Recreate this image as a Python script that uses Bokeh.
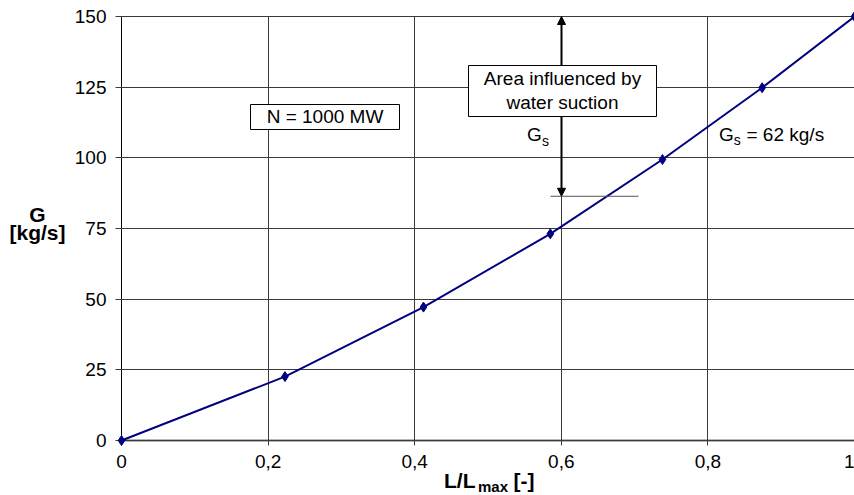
from bokeh.plotting import figure
from bokeh.models import Range1d, FixedTicker, Label, BoxAnnotation, Arrow, NormalHead
from bokeh.embed import file_html
from bokeh.resources import INLINE

# ---- data ----
ratio = [0, 0.223, 0.412, 0.585, 0.738, 0.874, 1.0]      # L/Lmax [-]
flow = [0, 22.6, 47.2, 73.1, 99.4, 124.8, 150]           # G [kg/s]
x_ticks = [0, 0.2, 0.4, 0.6, 0.8, 1.0]
x_tick_labels = ["0", "0,2", "0,4", "0,6", "0,8", "1"]
y_ticks = [0, 25, 50, 75, 100, 125, 150]
suction_top = 150
suction_bottom = 86.4
power_text = "N = 1000 MW"
gs_text = "= 62 kg/s"

# ---- layout (plot region: x 0..1 -> px 121..854, y 0..150 -> px 440..16) ----
W, H = 854, 495
X0, PXU = 121, 733.0           # pixel of x=0, pixels per unit x
Y0, PYU = 440, 424.0 / 150     # pixel of y=0, pixels per unit y
FONT = "Liberation Sans"


def X(px):
    return (px - X0) / PXU


def Y(py):
    return (Y0 - py) / PYU


p = figure(width=W, height=H, output_backend="svg", toolbar_location=None,
           x_range=Range1d(X(0), X(W)), y_range=Range1d(Y(H), Y(0)),
           min_border=0, min_border_left=0, min_border_right=0,
           min_border_top=0, min_border_bottom=0)
p.outline_line_color = None
p.background_fill_color = "white"
p.border_fill_color = "white"
p.xgrid.visible = False
p.ygrid.visible = False

# axes at the data origin; their inner ticks form the grid
p.xaxis.fixed_location = 0
p.yaxis.fixed_location = 0
p.xaxis.bounds = (x_ticks[0], x_ticks[-1])
p.yaxis.bounds = (y_ticks[0], y_ticks[-1])
p.xaxis.ticker = FixedTicker(ticks=x_ticks)
p.xaxis.major_label_overrides = {t: l for t, l in zip(x_ticks, x_tick_labels)}
p.yaxis.ticker = FixedTicker(ticks=y_ticks)
for ax in (p.xaxis, p.yaxis):
    ax.level = "underlay"
    ax.major_label_text_font = FONT
    ax.major_label_text_font_size = "19px"
    ax.major_label_text_color = "black"
    ax.minor_tick_line_color = None
    ax.major_tick_line_color = "#3a3a3a"
    ax.major_tick_line_width = 1
p.yaxis.major_tick_out = 6
p.yaxis.major_tick_in = int(round(PXU * (x_ticks[-1] - x_ticks[0])))
p.yaxis.major_label_standoff = 9
p.yaxis.axis_line_color = "black"
p.xaxis.major_tick_out = 5
p.xaxis.major_tick_in = int(round(PYU * (y_ticks[-1] - y_ticks[0])))
p.xaxis.major_label_standoff = 9
p.xaxis.axis_line_color = "#707070"
p.xaxis.axis_line_width = 2

# data
p.line(ratio, flow, line_color="#000080", line_width=2)
p.scatter(ratio, flow, marker="diamond", size=10, fill_color="#000080", line_color="#000080")

# annotations
p.add_layout(Arrow(x_start=X(561), y_start=suction_bottom, x_end=X(561), y_end=suction_top,
                   line_color="black", line_width=2,
                   start=NormalHead(size=8, fill_color="black", line_color="black"),
                   end=NormalHead(size=8, fill_color="black", line_color="black")))
p.add_layout(Arrow(x_start=X(550), y_start=suction_bottom, x_end=X(638), y_end=suction_bottom,
                   line_color="#555555", line_width=1, end=None))

p.add_layout(BoxAnnotation(left=X(250), right=X(399), top=Y(104), bottom=Y(129),
                           fill_color="white", fill_alpha=1, line_color="black", line_width=1,
                           line_alpha=1))
p.add_layout(BoxAnnotation(left=X(468), right=X(656), top=Y(65), bottom=Y(116),
                           fill_color="white", fill_alpha=1, line_color="black", line_width=1,
                           line_alpha=1))


def lab(px, base, text, size=19, bold=False, align="left"):
    # base = wanted pixel row of the text baseline
    p.add_layout(Label(x=X(px), y=Y(base - 0.37 * size), text=text, text_font=FONT,
                       text_font_size=f"{size}px",
                       text_font_style="bold" if bold else "normal", text_color="black",
                       text_align=align, text_baseline="alphabetic"))


lab(324.5, 123.4, power_text, align="center")
lab(562, 85.3, "Area influenced by", align="center")
lab(562, 109, "water suction", align="center")
lab(526.5, 141.5, "G")
lab(541.5, 145.5, "s", size=14)
lab(718.5, 141.5, "G")
lab(733.3, 144.5, "s", size=14)
lab(746, 141.5, gs_text)

# axis titles
lab(37, 222, "G", size=21, bold=True, align="center")
lab(37, 240, "[kg/s]", size=21, bold=True, align="center")
lab(443.5, 487.5, "L/L", size=21, bold=True)
lab(477.5, 491.5, "max", size=15, bold=True)
lab(513, 487.5, "[-]", size=21, bold=True)

open("out.html", "w").write(file_html(p, INLINE))
